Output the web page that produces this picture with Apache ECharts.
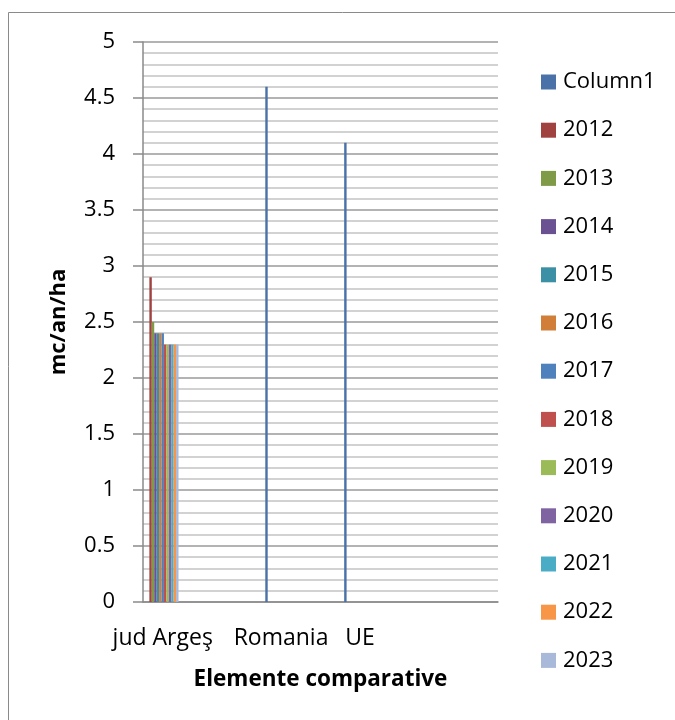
<!DOCTYPE html>
<html>
<head>
<meta charset="utf-8">
<script src="https://cdn.jsdelivr.net/npm/echarts@6/dist/echarts.min.js"></script>
<style>
html,body{margin:0;padding:0;background:#fff;}
#chart{width:675px;height:720px;}
</style>
</head>
<body>
<div id="chart"></div>
<script>
// Categories (blank entries are unlabeled slots on the category axis)
const categories = ["jud Argeş", "", "", "Romania", "", "UE", "", "", ""];
const seriesNames = ["Column1","2012","2013","2014","2015","2016","2017","2018","2019","2020","2021","2022","2023"];
const column1 = [null, null, null, 4.6, null, 4.1, null, null, null];
const v2012 = [2.9, null, null, null, null, null, null, null, null];
const v2013 = [2.5, null, null, null, null, null, null, null, null];
const v2014 = [2.4, null, null, null, null, null, null, null, null];
const v2015 = [2.4, null, null, null, null, null, null, null, null];
const v2016 = [2.4, null, null, null, null, null, null, null, null];
const v2017 = [2.4, null, null, null, null, null, null, null, null];
const v2018 = [2.3, null, null, null, null, null, null, null, null];
const v2019 = [2.3, null, null, null, null, null, null, null, null];
const v2020 = [2.3, null, null, null, null, null, null, null, null];
const v2021 = [2.3, null, null, null, null, null, null, null, null];
const v2022 = [2.3, null, null, null, null, null, null, null, null];
const v2023 = [2.3, null, null, null, null, null, null, null, null];
const seriesValues = [column1, v2012, v2013, v2014, v2015, v2016, v2017, v2018, v2019, v2020, v2021, v2022, v2023];
const colors = ["#4A72A8","#A0423F","#7F9B48","#6A5192","#3C90A6","#D17E38","#4F81BD","#C0504D","#9BBB59","#8064A2","#4BACC6","#F79646","#A9B9DA"];
const yTicks = [0, 0.5, 1, 1.5, 2, 2.5, 3, 3.5, 4, 4.5, 5];

const FONT = "'Open Sans', 'Noto Sans', sans-serif";
const chart = echarts.init(document.getElementById('chart'), null, {renderer: 'canvas'});
const option = {
  animation: false,
  backgroundColor: '#fff',
  color: colors,
  graphic: [{
    type: 'rect',
    shape: {x: 8.5, y: 12.5, width: 700, height: 740},
    style: {fill: 'none', stroke: '#8a8a8a', lineWidth: 1},
    silent: true, z: -1
  }],
  grid: {left: 143, top: 42, width: 355, height: 560, containLabel: false},
  legend: {
    orient: 'vertical',
    left: 541,
    top: 70,
    padding: 0,
    itemWidth: 15,
    itemHeight: 15,
    itemGap: 24.2,
    icon: 'rect',
    data: seriesNames,
    textStyle: {fontFamily: FONT, fontSize: 22, color: '#000', lineHeight: 24, padding: [0,0,0,2]}
  },
  xAxis: {
    type: 'category',
    data: categories,
    name: 'Elemente comparative',
    nameLocation: 'middle',
    nameGap: 66,
    nameTextStyle: {fontFamily: FONT, fontSize: 22.5, fontWeight: 'bold', color: '#000'},
    axisLine: {show: true, lineStyle: {color: '#8a8a8a', width: 1.5}},
    axisTick: {show: false},
    axisLabel: {interval: 0, margin: 25, fontFamily: FONT, fontSize: 23, color: '#000'},
    splitLine: {show: false}
  },
  yAxis: {
    type: 'value',
    min: 0, max: 5, interval: 0.5,
    name: 'mc/an/ha',
    nameLocation: 'middle',
    nameGap: 73,
    nameRotate: 90,
    nameTextStyle: {fontFamily: FONT, fontSize: 22, fontWeight: 'bold', color: '#000'},
    axisLine: {show: true, lineStyle: {color: '#8a8a8a', width: 1.5}},
    axisTick: {show: true, inside: false, length: 10, lineStyle: {color: '#8a8a8a', width: 1.5}},
    axisLabel: {margin: 28, fontFamily: FONT, fontSize: 22, color: '#000',
      formatter: function(v){ return yTicks.indexOf(v) >= 0 ? String(v) : ''; }},
    splitLine: {show: true, lineStyle: {color: '#9a9a9a', width: 1.5}},
    minorTick: {show: false, splitNumber: 5},
    minorSplitLine: {show: true, lineStyle: {color: '#c4c4c4', width: 1.5}}
  },
  series: seriesNames.map(function(name, i){
    return {
      name: name,
      type: 'bar',
      data: seriesValues[i],
      barGap: '0%',
      barCategoryGap: '20%',
      itemStyle: {color: colors[i]},
      emphasis: {disabled: true}
    };
  })
};
chart.setOption(option);
</script>
</body>
</html>
